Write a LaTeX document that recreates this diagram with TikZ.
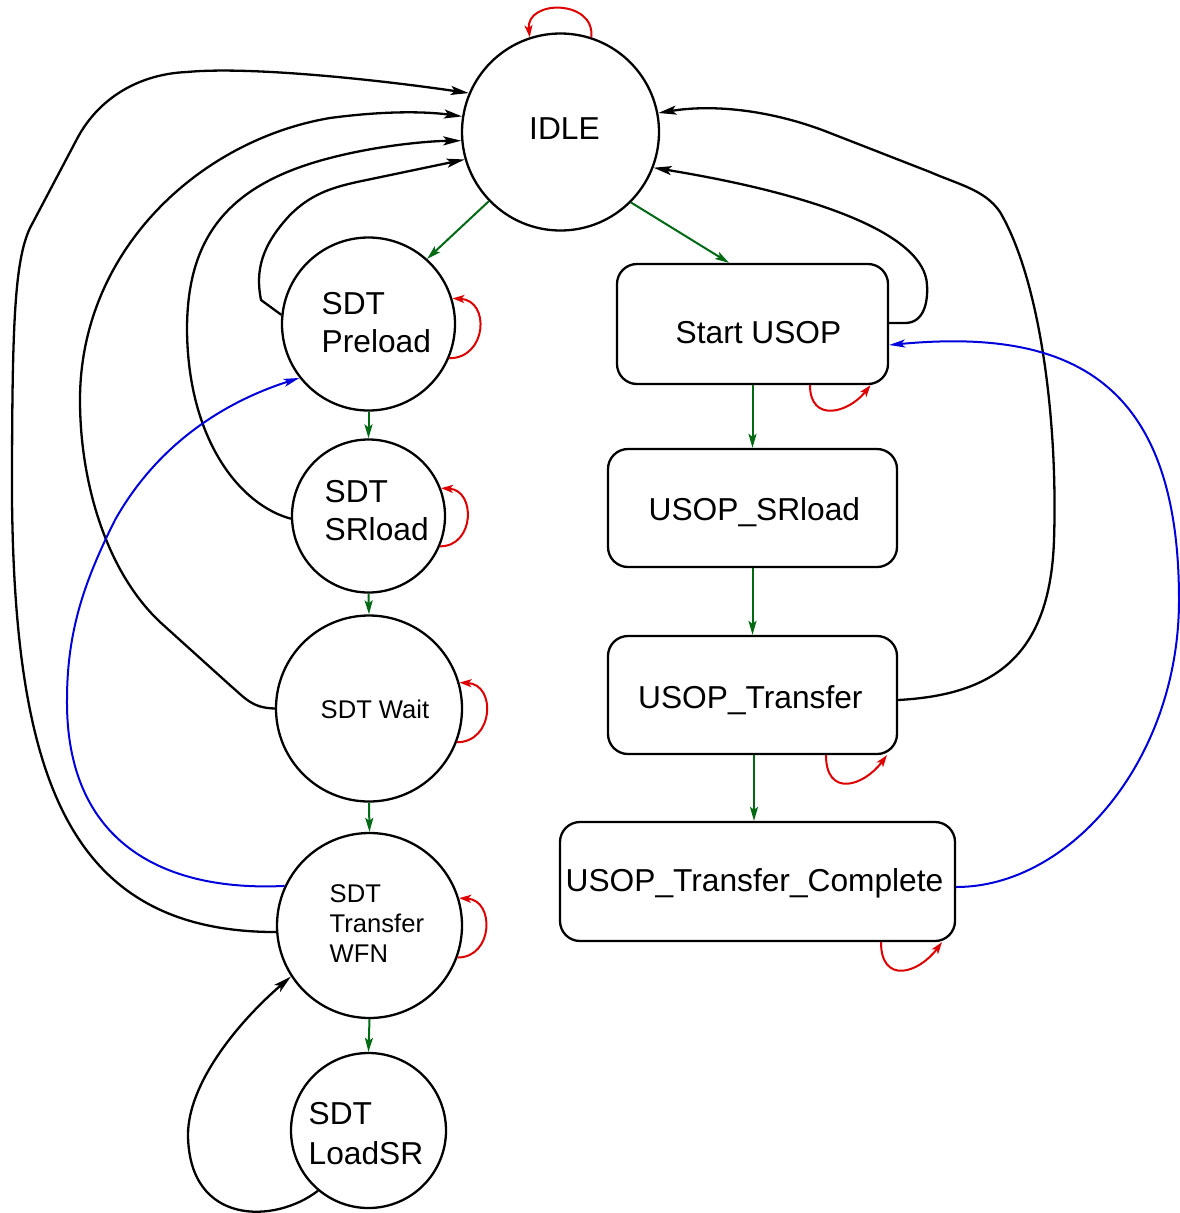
\documentclass[tikz,border=0pt]{standalone}
\usepackage{fontspec}
\setmainfont{Liberation Sans}
\usetikzlibrary{arrows.meta,calc}
\definecolor{dkgreen}{RGB}{0,105,20}
\definecolor{loopred}{RGB}{222,0,0}
\definecolor{linkblue}{RGB}{0,0,220}
\newcommand{\twol}[3]{\vtop{\baselineskip=#1pt\lineskiplimit=-100pt\hbox{#2}\hbox{#3}}}
\newcommand{\threel}[4]{\vtop{\baselineskip=#1pt\lineskiplimit=-100pt\hbox{#2}\hbox{#3}\hbox{#4}}}
\begin{document}
\begin{tikzpicture}[x=1pt,y=-1pt,
  st/.style={circle,draw=black,line width=2.3pt,inner sep=0pt},
  bx/.style={rectangle,rounded corners=20pt,draw=black,line width=2.3pt,inner sep=0pt},
  lbl/.style={inner sep=0pt,anchor=base west,font=\fontsize{31.7}{38}\selectfont},
  lbls/.style={inner sep=0pt,anchor=base west,font=\fontsize{25.6}{30}\selectfont},
  grn/.style={draw=dkgreen,line width=2pt,-{Stealth[length=14pt,width=8pt,inset=3pt]}},
  rl/.style={draw=loopred,line width=2pt,-{Stealth[length=12pt,width=8pt,inset=3pt]}},
  blk/.style={draw=black,line width=2.3pt,line join=round,-{Stealth[length=18pt,width=9pt,inset=4pt]}},
  blu/.style={draw=linkblue,line width=2pt,-{Stealth[length=16pt,width=8pt,inset=4pt]}}]
\useasboundingbox[fill=white] (0,0) rectangle (1180,1213);

% states
\node[st,minimum size=197pt] (idle) at (560.5,132) {};
\node[st,minimum size=173pt] (pre)  at (368.5,324) {};
\node[st,minimum size=153pt] (srl)  at (368.5,516) {};
\node[st,minimum size=186pt] (wait) at (369,708.5) {};
\node[st,minimum size=185pt] (wfn)  at (369.5,925.5) {};
\node[st,minimum size=155pt] (ldsr) at (368.5,1130.5) {};

\node[bx,minimum width=271pt,minimum height=120pt] (start) at (752.5,324) {};
\node[bx,minimum width=289pt,minimum height=118pt] (usrl)  at (752.5,508) {};
\node[bx,minimum width=289pt,minimum height=118pt] (utr)   at (752.5,695) {};
\node[bx,minimum width=395pt,minimum height=119pt] (ucomp) at (757.5,881.5) {};

% labels
\node[lbl] (tidle) at (529,139) {IDLE};
\node[lbl] (tpre)  at (321.5,314) {\twol{38}{SDT}{Preload}};
\node[lbl] (tsrl)  at (324.5,502) {\twol{38}{SDT}{SRload}};
\node[lbls] (twait) at (320.5,718) {SDT Wait};
\node[lbls] (twfn)  at (329.5,902) {\threel{30}{SDT}{Transfer}{WFN}};
\node[lbl] (tldsr) at (308.5,1124) {\twol{40}{SDT}{LoadSR}};
\node[lbl] (tstart) at (675.5,343) {Start USOP};
\node[lbl] (tusrl)  at (648.5,520) {USOP\_SRload};
\node[lbl] (tutr)   at (638,708) {USOP\_Transfer};
\node[lbl] (tucomp) at (565.5,891) {USOP\_Transfer\_Complete};

% green transitions
\draw[grn] (idle.224) -- (pre.48);
\draw[grn] (idle.315.6) -- ([xshift=-23.5pt]start.north);
\draw[grn] (pre.south) -- (srl.north);
\draw[grn] (srl.south) -- (wait.north);
\draw[grn] (wait.south) -- (wfn.north);
\draw[grn] (wfn.south) -- (ldsr.north);
\draw[grn] (start.south) -- (usrl.north);
\draw[grn] (usrl.south) -- (utr.north);
\draw[grn] ([xshift=1.5pt]utr.south) -- ([xshift=-3.5pt]ucomp.north);

% red self loops
\draw[rl] (idle.72) .. controls +(4,-38) and +(-4,-38) .. (idle.108);
\draw[rl] (pre.-23) .. controls +(38,0) and +(38,2) .. (pre.17);
\draw[rl] (srl.-23) .. controls +(35,0) and +(35,2) .. (srl.21);
\draw[rl] (wait.-21) .. controls +(37,0) and +(37,2) .. (wait.16);
\draw[rl] (wfn.-20) .. controls +(36,0) and +(36,2) .. (wfn.17);
\draw[rl] ([xshift=57.5pt]start.south) .. controls +(0,38) and +(-22,28) .. ([xshift=118pt]start.south);
\draw[rl] ([xshift=73.5pt]utr.south) .. controls +(0,42) and +(-24,32) .. ([xshift=134.5pt]utr.south);
\draw[rl] ([xshift=123.5pt]ucomp.south) .. controls +(0,42) and +(-24,32) .. ([xshift=184.5pt]ucomp.south);

% black returns to IDLE (left)
\draw[blk] (wfn.184) .. controls (70,932) and (15,780) .. (12,500)
  .. controls (12,330) and (14,262) .. (30,228) -- (78,137)
  .. controls (100,97) and (140,74) .. (187,72)
  .. controls (250,66) and (380,80) .. (idle.157);
\draw[blk] (wait.west) .. controls (252,708) and (245,698) .. (232,687) -- (160,622)
  .. controls (105,570) and (80,480) .. (80,400)
  .. controls (80,250) and (200,140) .. (330,118)
  .. controls (390,110) and (430,112) .. (idle.171);
\draw[blk] (srl.182) .. controls (240,505) and (188,440) .. (187,330)
  .. controls (187,240) and (225,185) .. (330,158)
  .. controls (380,145) and (430,141) .. (idle.185);
\draw[blk] (pre.174) -- (261,300) .. controls (255,270) and (262,245) .. (290,215)
  .. controls (310,195) and (330,188) .. (357,182) -- (idle.196);
% loop LoadSR -> WFN
\draw[blk] (ldsr.230) .. controls (275,1224) and (189,1226) .. (188,1135)
  .. controls (188,1085) and (235,1025) .. (wfn.213);
% black returns to IDLE (right)
\draw[blk] ([yshift=1pt]start.east) -- (905,323) .. controls (925,323) and (928,300) .. (927,285)
  .. controls (925,235) and (820,195) .. (idle.339.5);
\draw[blk] ([yshift=-5pt]utr.east) .. controls (990,695) and (1050,660) .. (1054,540)
  .. controls (1058,420) and (1040,280) .. (1000,212)
  .. controls (985,190) and (960,185) .. (930,172) -- (830,133)
  .. controls (780,113) and (720,103) .. (idle.11);

% blue transitions
\draw[blu] (wfn.155) .. controls (160,892) and (66,840) .. (67,700)
  .. controls (67,630) and (85,580) .. (115,520)
  .. controls (160,440) and (230,400) .. (pre.218);
\draw[blu] ([yshift=-5.5pt]ucomp.east) .. controls (1070,887) and (1179,760) .. (1179,600)
  .. controls (1179,380) and (1070,328) .. ([yshift=-21pt]start.east);
\end{tikzpicture}
\end{document}
